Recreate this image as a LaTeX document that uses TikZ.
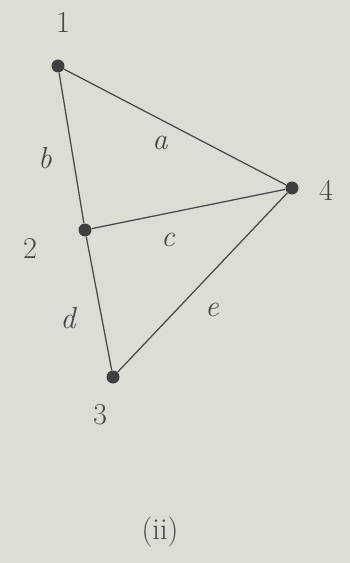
\documentclass[tikz,border=0pt]{standalone}
\definecolor{paper}{RGB}{221,220,213}
\definecolor{pencil}{RGB}{70,70,70}
\begin{document}
\begin{tikzpicture}[x=0.02cm,y=-0.02cm,font=\LARGE,
  vx/.style={circle,fill=pencil!90!black,inner sep=0pt,minimum size=0.26cm},
  lb/.style={text=pencil,inner sep=1pt},
  ed/.style={draw=pencil,line width=0.7pt}]
  \fill[paper] (0,0) rectangle (350,563);
  \node[vx] (v1) at (58,66){};
  \node[vx] (v2) at (85,230){};
  \node[vx] (v3) at (113,377){};
  \node[vx] (v4) at (292,188){};
  \node[lb] (n1) at (63,22){1};
  \node[lb] (n2) at (30,248){2};
  \node[lb] (n3) at (100,415){3};
  \node[lb] (n4) at (326,190){4};
  \draw[ed] (v1) -- (v4);
  \draw[ed] (v1) -- (v2);
  \draw[ed] (v2) -- (v4);
  \draw[ed] (v2) -- (v3);
  \draw[ed] (v3) -- (v4);
  \node[lb,font=\LARGE\itshape] (ea) at (160,143){a};
  \node[lb,font=\LARGE\itshape] (eb) at (45,158){b};
  \node[lb,font=\LARGE\itshape] (ec) at (168,240){c};
  \node[lb,font=\LARGE\itshape] (ed) at (68,318){d};
  \node[lb,font=\LARGE\itshape] (ee) at (212,310){e};
  \node[lb] (cap) at (160,532){(ii)};
\end{tikzpicture}
\end{document}
